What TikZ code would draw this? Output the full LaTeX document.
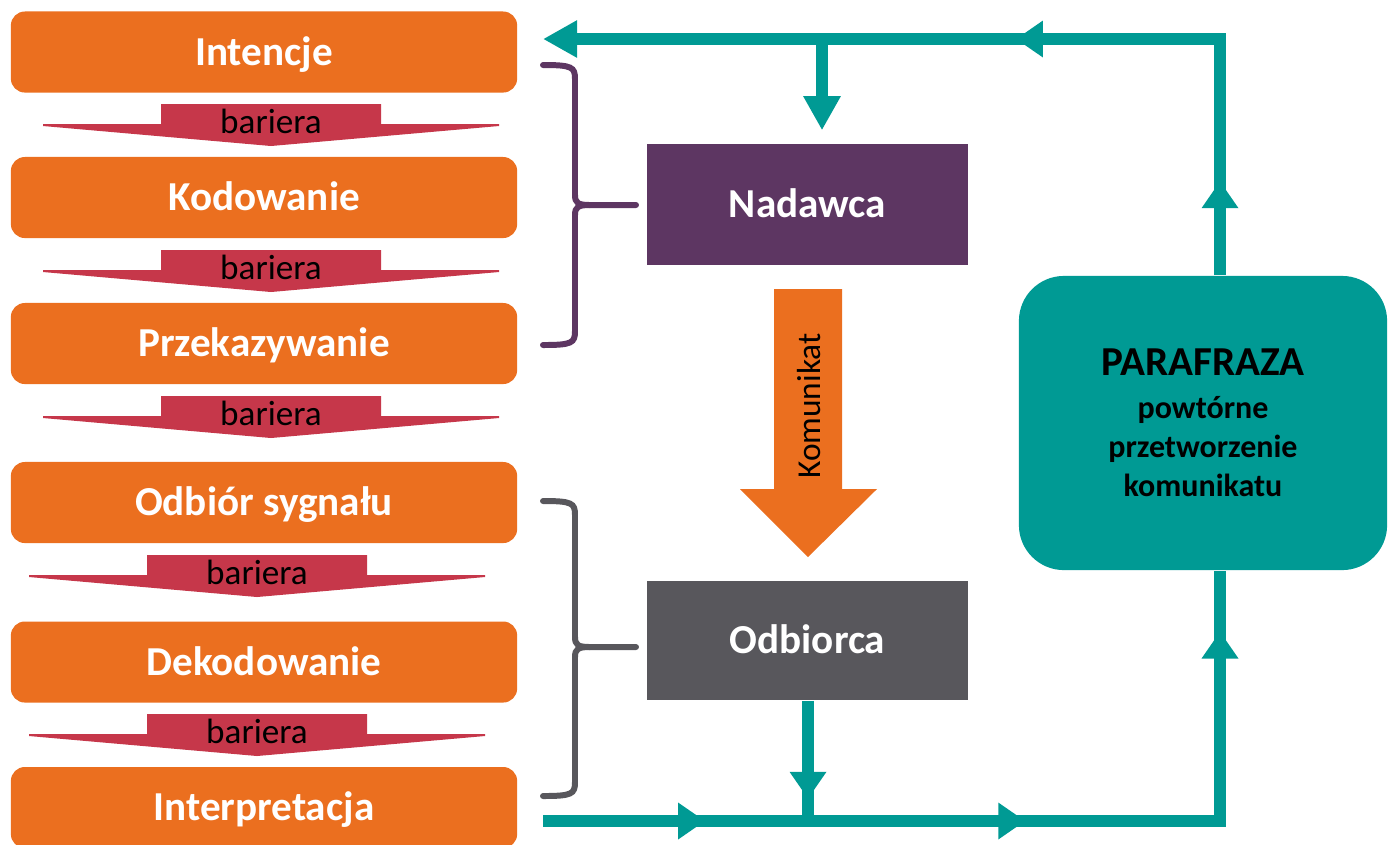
\documentclass[tikz,border=0pt]{standalone}
\usepackage{fontspec}
\setmainfont{Carlito}
\usetikzlibrary{positioning,calc,arrows.meta,decorations.markings}
\definecolor{boxorange}{HTML}{EB6F1F}
\definecolor{barred}{HTML}{C6374A}
\definecolor{sendpurple}{HTML}{5D3662}
\definecolor{recvgray}{HTML}{58575C}
\definecolor{loopteal}{HTML}{009A94}
\tikzset{
    loophead/.tip={Triangle[length=0.27cm,width=0.35cm]},
    loopend/.tip={Triangle[length=0.34cm,width=0.35cm]},
    stage/.style={rectangle, rounded corners=0.14cm, fill=boxorange, text=white,
        font=\fontsize{11.7}{14}\selectfont\bfseries, minimum width=5.06cm,
        minimum height=0.81cm, inner sep=0pt, text height=7.5pt, text depth=0pt},
    barrier/.style={fill=barred},
    barriertext/.style={font=\fontsize{10}{12}\selectfont, inner sep=0pt},
    party/.style={rectangle, text=white, font=\fontsize{11.7}{14}\selectfont\bfseries,
        minimum width=3.21cm, minimum height=1.21cm, inner sep=0pt,
        text height=7.5pt, text depth=0pt},
    parabox/.style={rectangle, rounded corners=0.45cm, fill=loopteal, text=black,
        minimum width=3.68cm, minimum height=2.94cm, align=center,
        font=\fontsize{9.1}{11.1}\selectfont\bfseries},
    sidebrace/.style={line width=1.7pt, line cap=round},
    feedback/.style={draw=loopteal, line width=0.12cm},
    midarrow/.style={postaction={decorate, decoration={markings,
        mark=at position #1 with {\arrow[loopteal]{loophead}}}}},
}
\begin{document}
\begin{tikzpicture}[x=0.01cm, y=-0.01cm]

\clip (0,0) rectangle (1388,844);

% stages of the message
\node[stage] (intencje) at (264,52) {Intencje};
\node[stage] (kodowanie) at (264,197.5) {Kodowanie};
\node[stage] (przekaz) at (264,343.5) {Przekazywanie};
\node[stage] (odbior) at (264,502.5) {Odbiór sygnału};
\node[stage] (dekod) at (264,662) {Dekodowanie};
\node[stage] (interp) at (264,807.5) {Interpretacja};

% barriers between stages
\foreach \x/\y in {161/104,161/250,161/396,147/555,147/714}{
    \fill[barrier] (\x,\y) -- ++(220,0) -- ++(0,20) -- ++(118,0) -- ++(0,2)
        -- (\x+110,\y+42) -- (\x-118,\y+22) -- ++(0,-2) -- (\x,\y+20) -- cycle;
    \node[barriertext] at (\x+110,\y+17) {bariera};
}

\node[party, fill=sendpurple] (nadawca) at (807.5,204.5) {Nadawca};
\node[party, fill=recvgray, minimum height=1.19cm] (odbiorca) at (807.5,640.5) {Odbiorca};

% message arrow
\fill[boxorange] (774,289) -- (842,289) -- (842,489) -- (877,489) -- (808,557)
    -- (740,489) -- (774,489) -- cycle;
\node[rotate=90, font=\fontsize{9.5}{11}\selectfont, inner sep=0pt] (komunikat) at (809,406) {Komunikat};

% braces
\foreach \col/\ya/\ym/\yb in {sendpurple/65/205/345, recvgray/501/647/796}{
    \draw[sidebrace, \col] (543,\ya) .. controls (572,\ya) and (575,\ya+2) .. (575,\ya+14)
        -- (575,\ym-10) .. controls (575,\ym-2) and (578,\ym) .. (590,\ym) -- (636,\ym);
    \draw[sidebrace, \col] (590,\ym) .. controls (578,\ym) and (575,\ym+2) .. (575,\ym+10)
        -- (575,\yb-14) .. controls (575,\yb-2) and (572,\yb) .. (543,\yb);
}

\node[parabox] (parafraza) at (1203,423)
    {{\fontsize{11.7}{14}\selectfont PARAFRAZA}\\[1pt] powtórne\\ przetworzenie\\ komunikatu};

% feedback loop
\coordinate (tl) at (543,39);
\coordinate (tm) at (822,39);
\coordinate (tr) at (1220,39);
\coordinate (bl) at (543,821);
\coordinate (bm) at (808,821);
\coordinate (br) at (1220,821);

\draw[feedback, midarrow=0.94cm, midarrow=4.4cm, -{loopend}] (parafraza.north -| tr) -- (tr) -- (tl);
\draw[feedback, -{loopend}, shorten >=0.13cm] (tm) -- (nadawca.north -| tm);
\draw[feedback, midarrow=0.98cm] (odbiorca.south -| bm) -- (bm);
\draw[feedback, midarrow=1.62cm, midarrow=4.82cm, midarrow=8.66cm] (bl) -- (br) -- (parafraza.south -| br);

\end{tikzpicture}
\end{document}
